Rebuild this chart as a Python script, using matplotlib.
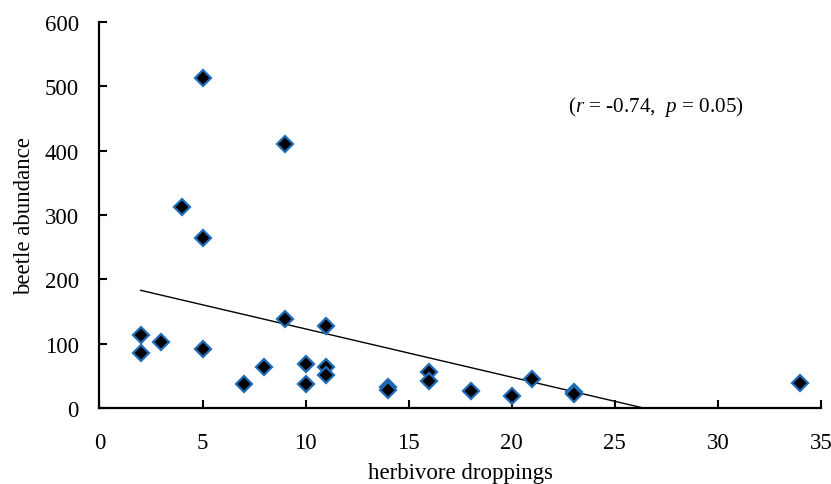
import numpy as np
import matplotlib.pyplot as plt

# === Données ===
droppings = [2, 2, 3, 4, 5, 5, 5, 7, 8, 9, 9, 10, 10, 11, 11, 11,
             14, 14, 16, 16, 18, 20, 21, 23, 23, 34]
abundance = [113, 86, 102, 312, 513, 264, 91, 37, 64, 410, 139, 69, 38, 127, 63, 51,
             32, 28, 56, 42, 27, 19, 45, 25, 21, 39]
x_ticks = [0, 5, 10, 15, 20, 25, 30, 35]
y_ticks = [0, 100, 200, 300, 400, 500, 600]
stats_text = r"($r$ = -0.74,  $p$ = 0.05)"

plt.rcParams["font.family"] = "Liberation Serif"
plt.rcParams["mathtext.fontset"] = "custom"
plt.rcParams["mathtext.rm"] = "Liberation Serif"
plt.rcParams["mathtext.it"] = "Liberation Serif:italic"

fig = plt.figure(figsize=(8.31, 4.85), dpi=100)
ax = fig.add_axes([0.1197, 0.1567, 0.8683, 0.7959])

# === Droite de régression ===
slope, intercept = np.polyfit(droppings, abundance, 1)
x_fit = np.array([min(droppings), max(droppings)])
ax.plot(x_fit, slope * x_fit + intercept, color="black", lw=1.0, zorder=2)

ax.plot(droppings, abundance, "D", ms=8.5, mfc="black", mec="#1f6db8", mew=1.6,
        zorder=3, clip_on=False)

ax.set_xlim(0, 35)
ax.set_ylim(0, 600)
ax.set_xticks(x_ticks)
ax.set_yticks(y_ticks)
ax.tick_params(direction="in", length=6, width=1.5, labelsize=16.5)
ax.tick_params(axis="x", pad=17)
ax.tick_params(axis="y", pad=15)
for s in ["top", "right"]:
    ax.spines[s].set_visible(False)
for s in ["left", "bottom"]:
    ax.spines[s].set_linewidth(1.6)

ax.set_xlabel("herbivore droppings", fontsize=16.5, labelpad=7)
ax.set_ylabel("beetle abundance", fontsize=16.5, labelpad=7)
ax.text(0.771, 0.783, stats_text, transform=ax.transAxes, ha="center", va="center",
        fontsize=15.2)

fig.savefig("out.png", dpi=100)
